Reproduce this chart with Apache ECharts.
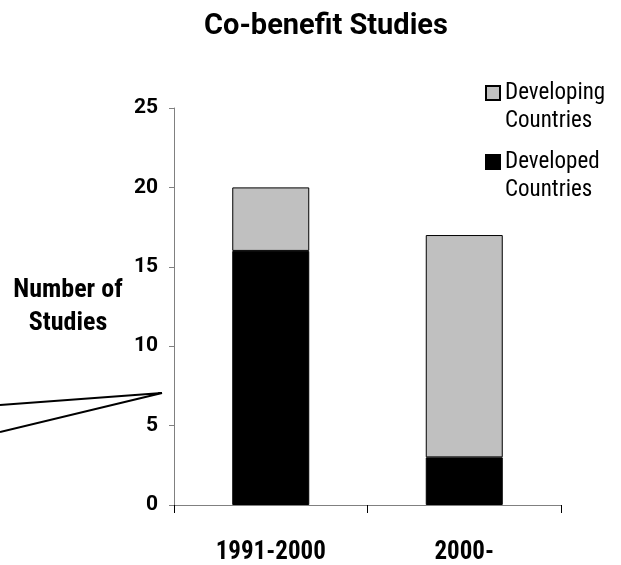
<!DOCTYPE html>
<html>
<head>
<meta charset="utf-8">
<script src="https://cdn.jsdelivr.net/npm/echarts@6/dist/echarts.min.js"></script>
<style>
  html, body { margin: 0; padding: 0; background: #fff; }
  #chart { width: 621px; height: 565px; }
</style>
</head>
<body>
<div id="chart"></div>
<script>
// Study counts per decade, split by country group
const categories = ['1991-2000', '2000-'];
const developedCountries = [16, 3];
const developingCountries = [4, 14];
const yTicks = { min: 0, max: 25, interval: 5 };

const FONT = 'Roboto, "Liberation Sans", Arial, sans-serif';
const NARROW = '"Roboto Condensed", Roboto, "Liberation Sans", sans-serif';
const AXIS_GRAY = '#808080';

// Square swatch sitting at the top of a taller box, so it lines up with
// the first line of a two-line legend label.
const SWATCH = 'path://M0,0L14,0L14,14L0,14Z M0,42';

const chart = echarts.init(document.getElementById('chart'), null, { renderer: 'canvas' });

chart.setOption({
  animation: false,
  backgroundColor: '#fff',
  title: {
    text: 'Co-benefit Studies',
    left: 321, top: 7, textAlign: 'center',
    textStyle: { fontFamily: FONT, fontWeight: 'bold', fontSize: 29, color: '#000' }
  },
  legend: {
    orient: 'vertical',
    data: ['Developing\nCountries', 'Developed\nCountries'],
    left: 485, top: 79, padding: 0,
    icon: SWATCH, itemWidth: 14, itemHeight: 42, itemGap: 13,
    selectedMode: false,
    textStyle: { fontFamily: NARROW, fontSize: 23, color: '#000', lineHeight: 28 }
  },
  grid: { left: 174, right: 60, top: 108, bottom: 56, containLabel: false },
  xAxis: {
    type: 'category',
    data: categories,
    axisLine: { lineStyle: { color: AXIS_GRAY, width: 1 } },
    axisTick: { show: true, alignWithLabel: false, length: 8, lineStyle: { color: '#000' } },
    axisLabel: { fontFamily: NARROW, fontWeight: 'bold', fontSize: 25, color: '#000', margin: 35 }
  },
  yAxis: {
    type: 'value',
    min: yTicks.min, max: yTicks.max, interval: yTicks.interval,
    name: 'Number of\nStudies',
    nameLocation: 'middle',
    nameRotate: 0,
    nameGap: 106,
    nameTextStyle: { fontFamily: NARROW, fontWeight: 'bold', fontSize: 26, color: '#000', lineHeight: 33, align: 'center' },
    axisLine: { show: true, lineStyle: { color: AXIS_GRAY, width: 1 } },
    axisTick: { show: true, length: 5, lineStyle: { color: AXIS_GRAY } },
    splitLine: { show: false },
    axisLabel: { fontFamily: FONT, fontWeight: 'bold', fontSize: 21, color: '#000', margin: 16 }
  },
  series: [
    {
      name: 'Developed\nCountries',
      type: 'bar', stack: 'studies',
      data: developedCountries,
      barWidth: 77,
      itemStyle: { color: '#000', borderColor: '#000', borderWidth: 1 }
    },
    {
      name: 'Developing\nCountries',
      type: 'bar', stack: 'studies',
      data: developingCountries,
      barWidth: 77,
      itemStyle: { color: '#c0c0c0', borderColor: '#000', borderWidth: 1 }
    }
  ],
  graphic: [
    {
      type: 'polyline',
      shape: { points: [[0, 405], [162, 393], [0, 432]] },
      style: { stroke: '#000', lineWidth: 2, fill: null }
    }
  ]
});
</script>
</body>
</html>
